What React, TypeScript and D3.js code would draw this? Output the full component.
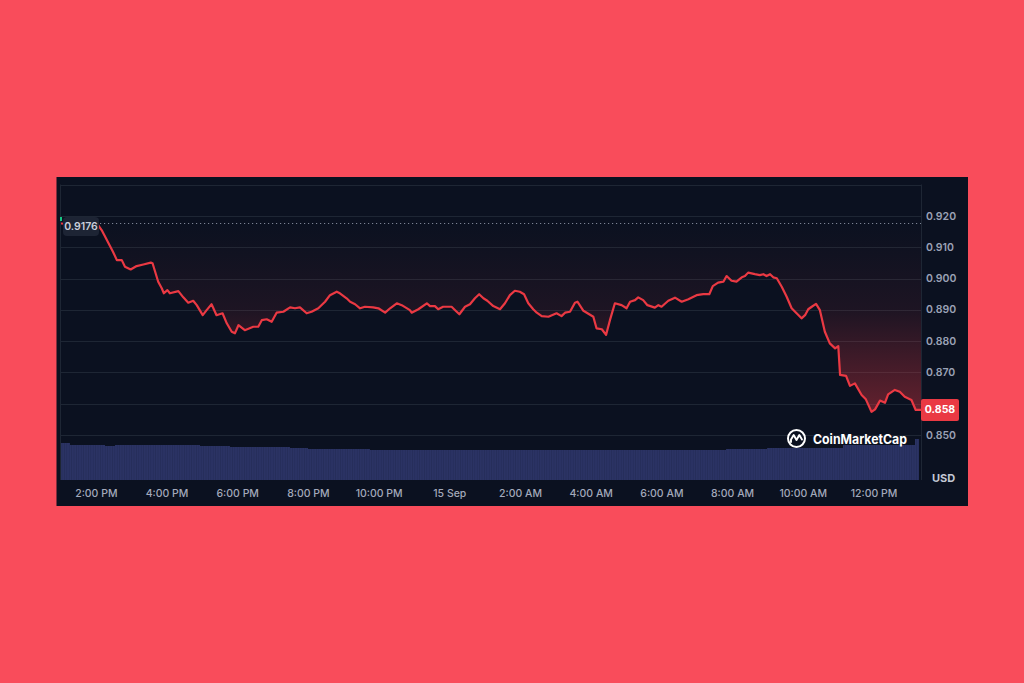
import React from "react";
import * as d3 from "d3";

// ---- data ----
const startTime = new Date(2023, 8, 14, 13, 0, 0); // 14 Sep, 1:00 PM
const openPrice = 0.9176;
const lastPrice = 0.858;

const priceHours = [
  0, 1.05, 1.15, 1.47, 1.58, 1.72, 1.81, 1.97, 2.14, 2.33, 2.54, 2.59, 2.75, 2.85, 2.91, 3.01, 3.08, 3.32, 3.46, 3.6,
  3.74, 3.84, 4.01, 4.12, 4.26, 4.4, 4.57, 4.69, 4.83, 4.92, 5.02, 5.2, 5.44, 5.58, 5.68, 5.82, 5.96, 6.1, 6.29, 6.48,
  6.62, 6.76, 6.95, 7.09, 7.28, 7.47, 7.61, 7.8, 7.89, 8.08, 8.18, 8.32, 8.46, 8.6, 8.83, 8.98, 9.17, 9.31, 9.5, 9.64,
  9.87, 9.92, 10.11, 10.35, 10.44, 10.58, 10.67, 10.81, 11.05, 11.15, 11.27, 11.43, 11.57, 11.71, 11.83, 11.95, 12.06,
  12.23, 12.42, 12.56, 12.7, 12.84, 12.98, 13.1, 13.22, 13.36, 13.46, 13.6, 13.79, 14.02, 14.16, 14.26, 14.4, 14.54,
  14.61, 14.78, 15.06, 15.15, 15.3, 15.42, 15.53, 15.67, 15.86, 16.0, 16.1, 16.24, 16.33, 16.47, 16.59, 16.8, 16.9,
  16.99, 17.18, 17.37, 17.56, 17.75, 17.98, 18.17, 18.34, 18.44, 18.59, 18.74, 18.83, 18.97, 19.11, 19.26, 19.35,
  19.44, 19.63, 19.77, 19.87, 19.96, 20.06, 20.15, 20.25, 20.39, 20.53, 20.67, 20.81, 20.95, 21.05, 21.14, 21.24,
  21.36, 21.47, 21.61, 21.75, 21.9, 21.99, 22.04, 22.21, 22.32, 22.46, 22.65, 22.77, 22.93, 23.03, 23.17, 23.31,
  23.4, 23.59, 23.73, 23.87, 24.06, 24.18, 24.33,
];
const prices = [
  0.9176, 0.9171, 0.9155, 0.9086, 0.9059, 0.9059, 0.9038, 0.9029, 0.904, 0.9045, 0.9051, 0.9049, 0.899, 0.8969,
  0.8953, 0.8963, 0.8953, 0.896, 0.894, 0.8923, 0.8929, 0.8915, 0.8883, 0.8899, 0.8918, 0.8883, 0.8889, 0.8857,
  0.883, 0.8825, 0.8851, 0.8835, 0.8846, 0.8846, 0.8867, 0.887, 0.8862, 0.8891, 0.8894, 0.8908, 0.8905, 0.8908,
  0.8889, 0.8894, 0.8905, 0.8926, 0.8947, 0.8958, 0.8953, 0.8937, 0.8926, 0.8918, 0.8905, 0.891, 0.8908, 0.8905,
  0.8891, 0.8905, 0.8921, 0.8915, 0.8899, 0.8891, 0.8902, 0.8921, 0.8912, 0.8912, 0.8902, 0.891, 0.891, 0.8899,
  0.8886, 0.891, 0.8918, 0.8937, 0.895, 0.8937, 0.8929, 0.8912, 0.8902, 0.8921, 0.8947, 0.8961, 0.8958, 0.895,
  0.8921, 0.8902, 0.8891, 0.888, 0.8878, 0.8889, 0.888, 0.8891, 0.8894, 0.8923, 0.8926, 0.8897, 0.8878, 0.8841,
  0.8838, 0.882, 0.8867, 0.8921, 0.8915, 0.8905, 0.8926, 0.8931, 0.894, 0.8931, 0.8915, 0.8907, 0.8915, 0.891,
  0.8929, 0.8939, 0.8926, 0.8934, 0.8947, 0.895, 0.895, 0.8976, 0.8987, 0.899, 0.9008, 0.8993, 0.899, 0.9004,
  0.9008, 0.9019, 0.9014, 0.9011, 0.9014, 0.9008, 0.9014, 0.9004, 0.9001, 0.8974, 0.8942, 0.8905, 0.8889, 0.8873,
  0.8883, 0.8902, 0.891, 0.8919, 0.8899, 0.883, 0.8793, 0.8777, 0.8784, 0.8692, 0.8689, 0.8657, 0.8665, 0.8628,
  0.8614, 0.8574, 0.8582, 0.861, 0.8603, 0.863, 0.8644, 0.8638, 0.8622, 0.8612, 0.858, 0.858,
];

const volumeHours = [0, 0.25, 1.24, 1.53, 3.93, 4.78, 5.63, 6.48, 6.99, 7.04, 8.74, 12.76, 15.25, 18.81, 19.97, 21.19, 22.12, 23.17, 24.16];
const volumes = [36.7, 35.5, 34.5, 35, 34.5, 33.5, 33, 32.5, 31.5, 30.7, 29.7, 30.2, 30.3, 31, 31.7, 32.3, 34.7, 35.5, 41];

const yTicks = [0.85, 0.86, 0.87, 0.88, 0.89, 0.9, 0.91, 0.92, 0.93];
const xTickHours = [1, 3, 5, 7, 9, 11, 13, 15, 17, 19, 21, 23];
const xTickLabels = ["2:00 PM", "4:00 PM", "6:00 PM", "8:00 PM", "10:00 PM", "15 Sep", "2:00 AM", "4:00 AM", "6:00 AM", "8:00 AM", "10:00 AM", "12:00 PM"];
const endHours = 24.33;

// ---- layout ----
const W = 1024;
const H = 683;
const plot = { left: 61, right: 921, top: 184.5, bottom: 480 };
const HOUR = 3600 * 1000;
const t = (h: number) => new Date(startTime.getTime() + h * HOUR);

const RED = "#EA3943";
const FONT = "Inter, 'Noto Sans', sans-serif";

export default function App() {
  const x = d3.scaleTime().domain([t(0), t(endHours)]).range([plot.left, plot.right]);
  const y = d3.scaleLinear().domain([0.85, 0.92]).range([435, 216]);
  const yVol = d3.scaleLinear().domain([0, 50]).range([plot.bottom, 430]);

  const pts = priceHours.map((h, i) => ({ d: t(h), v: prices[i] }));
  const line = d3.line<{ d: Date; v: number }>().x((p) => x(p.d)).y((p) => y(p.v));
  const area = d3
    .area<{ d: Date; v: number }>()
    .x((p) => x(p.d))
    .y0(y(openPrice))
    .y1((p) => y(p.v));

  const volSegs = volumeHours.map((h, i) => {
    const x0 = x(t(h));
    const x1 = i < volumeHours.length - 1 ? x(t(volumeHours[i + 1])) : 919;
    return { x0, x1, v: volumes[i] };
  });

  const baseY = y(openPrice);
  const lastY = y(lastPrice);
  const badgeTop = lastY - 11;
  const badgeBottom = lastY + 11;

  return (
    <div style={{ position: "absolute", left: 0, top: 0, width: W, height: H }}>
      <svg width={W} height={H} style={{ display: "block", fontFamily: FONT }}>
        <defs>
          <linearGradient id="fillGrad" gradientUnits="userSpaceOnUse" x1="0" y1={baseY} x2="0" y2={y(0.857)}>
            <stop offset="0" stopColor={RED} stopOpacity={0.0} />
            <stop offset="0.45" stopColor={RED} stopOpacity={0.08} />
            <stop offset="1" stopColor={RED} stopOpacity={0.4} />
          </linearGradient>
          <pattern id="volStripes" patternUnits="userSpaceOnUse" width="2.4" height="10">
            <rect x="0" y="0" width="2.4" height="10" fill="#2B3364" />
            <rect x="1.8" y="0" width="0.6" height="10" fill="#232B56" />
          </pattern>
          <clipPath id="plotClip">
            <rect x={plot.left} y={plot.top} width={plot.right - plot.left} height={plot.bottom - plot.top} />
          </clipPath>
        </defs>

        <rect x={0} y={0} width={W} height={H} fill="#F94C5B" />
        <rect x={56.5} y={177} width={911.5} height={329} fill="#0B1120" />

        {/* grid */}
        {yTicks.map((v) => (
          <line key={v} x1={plot.left} x2={plot.right} y1={Math.round(y(v)) + 0.5} y2={Math.round(y(v)) + 0.5} stroke="#1E2634" strokeWidth={1} />
        ))}
        <line x1={60.5} x2={60.5} y1={plot.top} y2={plot.bottom} stroke="#1E2634" />
        <line x1={921.5} x2={921.5} y1={plot.top} y2={plot.bottom} stroke="#1E2634" />

        {/* volume */}
        <g>
          {volSegs.map((s, i) => (
            <rect key={i} x={s.x0} y={yVol(s.v)} width={Math.max(0, s.x1 - s.x0)} height={plot.bottom - yVol(s.v)} fill="url(#volStripes)" shapeRendering="crispEdges" />
          ))}
        </g>

        {/* area + line */}
        <g clipPath="url(#plotClip)">
          <path d={area(pts) || ""} fill="url(#fillGrad)" />
          <line x1={100} x2={plot.right} y1={baseY} y2={baseY} stroke="#9AA1B3" strokeWidth={1} strokeDasharray="1.2 2.8" opacity={0.8} />
          <path d={line(pts) || ""} fill="none" stroke={RED} strokeWidth={2.2} strokeLinejoin="round" />
        </g>
        <rect x={60} y={217} width={2} height={4} fill="#16C784" />

        {/* open price badge */}
        <rect x={63} y={217} width={36} height={19} rx={4} fill="#1D2434" />
        <text x={81} y={226.5} textAnchor="middle" dominantBaseline="central" fontSize={10.5} fontWeight={600} fill="#C9CEDA">
          {openPrice.toFixed(4)}
        </text>

        {/* y axis labels (the one hidden under the last-price badge is not drawn) */}
        {yTicks
          .filter((v) => v <= 0.92)
          .filter((v) => y(v) < badgeTop - 4 || y(v) > badgeBottom + 4)
          .map((v) => (
            <text key={v} x={926} y={y(v)} dominantBaseline="central" fontSize={10.5} fontWeight={600} fill="#9BA2B6">
              {v.toFixed(3)}
            </text>
          ))}
        <text x={932} y={478} dominantBaseline="central" fontSize={11} fontWeight={700} fill="#C3C8D4">USD</text>

        {/* last price badge */}
        <rect x={921} y={badgeTop} width={38} height={22} rx={2} fill={RED} />
        <text x={940} y={lastY} textAnchor="middle" dominantBaseline="central" fontSize={10.5} fontWeight={700} fill="#FFFFFF">
          {lastPrice.toFixed(3)}
        </text>

        {/* x axis labels */}
        {xTickHours.map((h, i) => (
          <text key={h} x={x(t(h))} y={493} textAnchor="middle" dominantBaseline="central" fontSize={10.5} fontWeight={500} fill="#A3A9BB">
            {xTickLabels[i]}
          </text>
        ))}

        {/* logo */}
        <g transform="translate(796.5,438.5)">
          <circle r={8.5} fill="none" stroke="#FFFFFF" strokeWidth={2} />
          <path d="M-5.5,3.5 L-5.5,1 L-2.8,-3.5 L0,1.5 L2.8,-3.5 L5.5,1" fill="none" stroke="#FFFFFF" strokeWidth={1.9} strokeLinejoin="round" strokeLinecap="round" />
        </g>
        <text x={813} y={438.5} dominantBaseline="central" fontSize={13} fontWeight={700} fill="#FFFFFF" textLength={94} lengthAdjust="spacingAndGlyphs">
          CoinMarketCap
        </text>
      </svg>
    </div>
  );
}
